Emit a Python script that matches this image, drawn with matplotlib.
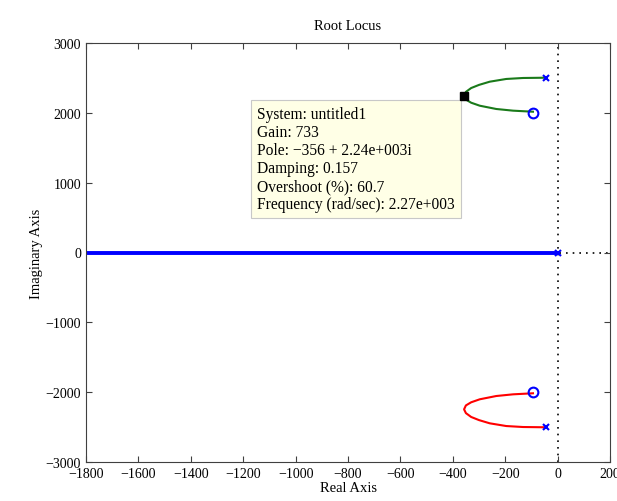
import matplotlib.pyplot as plt

plt.rcParams['font.family'] = ['Liberation Serif', 'DejaVu Serif']

# open-loop poles and zeros
pole_re = [0, -43, -43]
pole_im = [0, 2500, -2500]
zero_re = [-95, -95]
zero_im = [2000, -2000]

# locus branches
upper_re = [-43, -132, -196, -259, -300, -330, -350, -357, -350, -330, -297, -234, -170, -94]
upper_im = [2503, 2499, 2485, 2446, 2400, 2355, 2300, 2246, 2190, 2145, 2102, 2055, 2031, 2016]
lower_re = upper_re
lower_im = [-v for v in upper_im]
real_re = [-2000, 0]
real_im = [0, 0]

# data tip
tip_re, tip_im = -356, 2240
tip_text = ("System: untitled1\nGain: 733\nPole: \u2212356 + 2.24e+003i\n"
            "Damping: 0.157\nOvershoot (%): 60.7\nFrequency (rad/sec): 2.27e+003")

fig = plt.figure(figsize=(6.17, 5.02), dpi=100)
ax = fig.add_axes([86 / 617, 1 - 463 / 502, 524 / 617, 419 / 502])

ax.axvline(0, color='k', ls=(0, (1, 3)), lw=1.2, zorder=1)
ax.axhline(0, color='k', ls=(0, (1, 3)), lw=1.2, zorder=1)

ax.plot(real_re, real_im, color='b', lw=2.8, zorder=2)
ax.plot(upper_re, upper_im, color='#1a7a1a', lw=1.5, zorder=2)
ax.plot(lower_re, lower_im, color='r', lw=1.5, zorder=2)

ax.plot(pole_re, pole_im, 'x', color='b', ms=5, mew=1.5, zorder=3)
ax.plot(zero_re, zero_im, 'o', mfc='none', mec='b', ms=7, mew=1.5, zorder=3)
ax.plot([tip_re], [tip_im], 's', color='k', ms=6, zorder=6)

ax.text(-1148, 2100, tip_text, ha='left', va='top', multialignment='left',
        fontsize=11.2, linespacing=1.17,
        bbox=dict(boxstyle='square,pad=0.4', fc='#ffffe6', ec='#c8c8c8', lw=0.8), zorder=5)

ax.set_xlim(-1800, 200)
ax.set_ylim(-3000, 3000)
ax.set_xticks(range(-1800, 201, 200))
ax.set_yticks(range(-3000, 3001, 1000))
ax.tick_params(direction='in', top=True, right=True, labelsize=10, length=4, color='#404040')
for s in ax.spines.values():
    s.set_color('#404040')
ax.set_title('Root Locus', fontsize=10.5, pad=10)
ax.set_xlabel('Real Axis', fontsize=10.5, labelpad=1)
ax.set_ylabel('Imaginary Axis', fontsize=10.5, labelpad=2)

fig.savefig('out.png', dpi=100)
